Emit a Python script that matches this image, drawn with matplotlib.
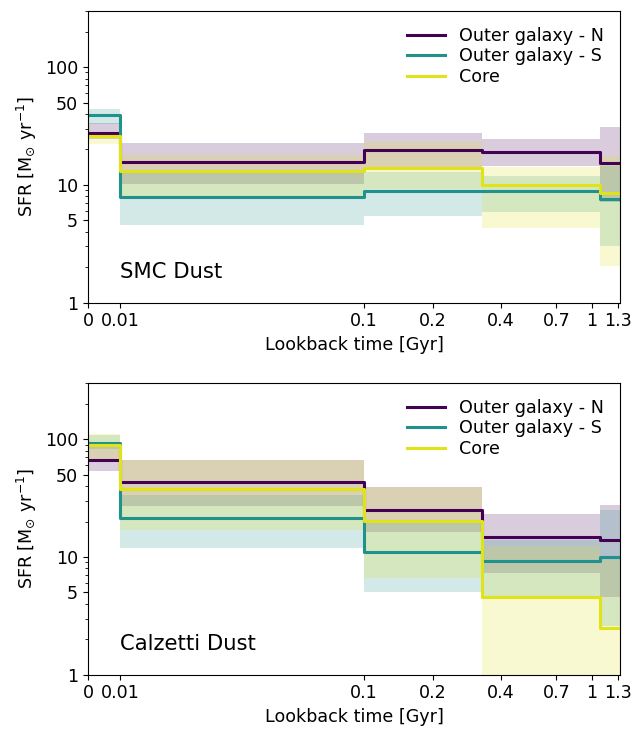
import numpy as np
import matplotlib
matplotlib.use('Agg')
import matplotlib.pyplot as plt

# bin edges in lookback time [Gyr]
edges = [0, 0.01, 0.1, 0.33, 1.09, 1.33]
labels = ['Outer galaxy - N', 'Outer galaxy - S', 'Core']
colors = ['#440154', '#21918c', '#dfe318']

# SMC dust
smc_n_med = [27.6, 15.7, 19.7, 19.0, 15.4]
smc_n_lo = [24.7, 10.1, 13.6, 14.5, 7.2]
smc_n_hi = [33.2, 22.7, 27.8, 24.7, 30.7]
smc_s_med = [39.0, 7.9, 8.9, 8.9, 7.6]
smc_s_lo = [33.1, 4.6, 5.4, 5.9, 3.0]
smc_s_hi = [44.4, 12.5, 12.9, 11.9, 14.5]
smc_c_med = [26.0, 13.1, 13.9, 9.9, 8.6]
smc_c_lo = [22.4, 7.9, 9.3, 4.3, 2.06]
smc_c_hi = [28.1, 18.1, 23.1, 14.1, 17.5]

# Calzetti dust
cal_n_med = [66.9, 43.2, 25.2, 14.8, 13.9]
cal_n_lo = [53.6, 27.0, 16.3, 7.3, 4.6]
cal_n_hi = [85.5, 66.9, 39.2, 23.0, 27.4]
cal_s_med = [93.2, 21.4, 11.0, 9.3, 10.0]
cal_s_lo = [82.0, 12.0, 5.0, 4.5, 2.6]
cal_s_hi = [108.0, 33.3, 19.8, 14.0, 24.9]
cal_c_med = [88.5, 37.5, 20.2, 4.6, 2.47]
cal_c_lo = [68.2, 16.8, 6.6, 0.5, 0.5]
cal_c_hi = [110.0, 66.0, 39.0, 12.4, 9.4]

xticks = [0, 0.01, 0.1, 0.2, 0.4, 0.7, 1, 1.3]
xticklabels = ['0', '0.01', '0.1', '0.2', '0.4', '0.7', '1', '1.3']
yticks = [1, 5, 10, 50, 100]
yticklabels = ['1', '5', '10', '50', '100']

# piecewise time axis: linear below 10 Myr, stretched log to 100 Myr, log above
k = 1.069
w0 = 0.1417
u001 = -1 - k

def forward(t):
	t = np.asarray(t, dtype=float)
	lt = np.log10(np.maximum(t, 1e-9))
	return np.where(t >= 0.1, lt, np.where(t >= 0.01, -1 + k * (lt + 1), u001 - w0 * (0.01 - t) / 0.01))

def inverse(u):
	u = np.asarray(u, dtype=float)
	return np.where(u >= -1, 10 ** u, np.where(u >= u001, 10 ** ((u + 1) / k - 1), 0.01 - 0.01 * (u001 - u) / w0))

fs = 12.6
plt.rcParams['font.size'] = fs

def plot_panel(ax, series, title):
	for (med, lo, hi), label, c in zip(series, labels, colors):
		ax.fill_between(edges, lo + lo[-1:], hi + hi[-1:], step='post', color=c, alpha=0.2, linewidth=0)
	for (med, lo, hi), label, c in zip(series, labels, colors):
		ax.step(edges, med + med[-1:], where='post', color=c, lw=2.2, label=label)
	ax.set_xscale('function', functions=(forward, inverse))
	ax.set_yscale('log')
	ax.set_xlim(0, 1.33)
	ax.set_ylim(1, 300)
	ax.set_xticks(xticks)
	ax.set_xticklabels(xticklabels)
	ax.xaxis.set_minor_locator(matplotlib.ticker.NullLocator())
	ax.set_yticks(yticks)
	ax.set_yticklabels(yticklabels)
	ax.set_xlabel('Lookback time [Gyr]', fontsize=fs)
	ax.set_ylabel(r'SFR [M$_{\odot}$ yr$^{-1}$]', fontsize=fs)
	ax.text(0.06, 0.105, title, transform=ax.transAxes, fontsize=15.2, va='center')
	ax.legend(loc='upper right', frameon=False, fontsize=fs, handlelength=2.2, labelspacing=0.15)

fig, axes = plt.subplots(2, 1, figsize=(6.35, 7.29), dpi=100)
fig.subplots_adjust(left=0.1386, right=0.9764, top=0.985, bottom=0.0745, hspace=0.276)

plot_panel(axes[0], [(smc_n_med, smc_n_lo, smc_n_hi), (smc_s_med, smc_s_lo, smc_s_hi), (smc_c_med, smc_c_lo, smc_c_hi)], 'SMC Dust')
plot_panel(axes[1], [(cal_n_med, cal_n_lo, cal_n_hi), (cal_s_med, cal_s_lo, cal_s_hi), (cal_c_med, cal_c_lo, cal_c_hi)], 'Calzetti Dust')

fig.savefig('out.png', dpi=100)
